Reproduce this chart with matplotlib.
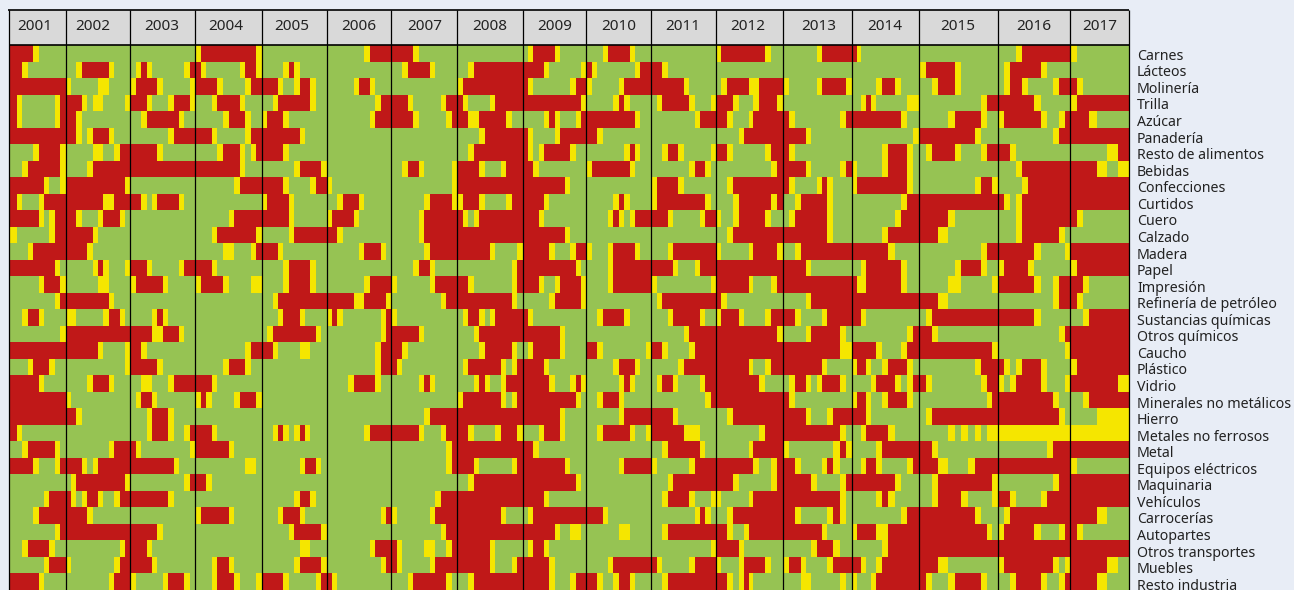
import numpy as np
import matplotlib
matplotlib.use("Agg")
import matplotlib.pyplot as plt
from matplotlib.colors import ListedColormap

sectors = ["Carnes","Lácteos","Molinería","Trilla","Azúcar","Panadería","Resto de alimentos","Bebidas",
           "Confecciones","Curtidos","Cuero","Calzado","Madera","Papel","Impresión","Refinería de petróleo",
           "Sustancias químicas","Otros químicos","Caucho","Plástico","Vidrio","Minerales no metálicos",
           "Hierro","Metales no ferrosos","Metal","Equipos eléctricos","Maquinaria","Vehículos","Carrocerías",
           "Autopartes","Otros transportes","Muebles","Resto industria"]
years = list(range(2001, 2018))

# Each year: one string per sector, one letter per period (G green, Y yellow, R red)
s2001 = """RRRRRYGGGGG RRRYGGGGGGG RRRRRRRRRRR RRYGGGGGGYR RRYGGGGGGYR RRRRRRRRRRR GGGGGYRRRRY GGGYRRRRRRY RRRRRRRYGGY RRYGGGYRRRR RRRRRRYGYRR
YYGGGGGGYRR GGGGYRRRRRR RRRRRRRRRYG GGGGGGYRRRY GGGGGGGGGYR GGGYRRYGGGG GGGGGGGGGGY RRRRRRRRRRR GGGGYRRRYGG RRRRRRYGGGG RRRRRRRRRRR
RRRRRRRRRRR RRYGGGGGGGG GGGYRRRRRYG RRRRRYGGGYR GGGGGGGGGGG GGGGGGGYRRR GGGGGYRRRRR GGGGGGGGGYR GGGYRRRRYGG GGGGGGGYRRR RRRRRRYGGGG""".split()
s2002 = """GGGGGGGGGGGG GGYRRRRRYGGG YGGGGGYYGGGG RRRYGYYGGGGY RRYGGGGGGGGG RRYGYRRRYGGG GGGGGYYGGYRR GGGGYRRRRRRR RRRRRRRRRRRY RRRRRRRYYRRR RRYGGGYRRRYG
RRRRRYGGGGGG RRRRYGGGGGGG GGGGGYRYGGGY GGGGGGYYGGGG RRRRRRRRYGGG YYGGGGGYRRYG RRRRRRRRRRRR RRRRRRYGGGGY GGGGGGGGGGGY GGGGYRRRYGGG YGGGGGGGGGGG
RRYGGGGGGGGG GGGGGGGGGGGG GGGGGGGGYRRR RRRYGYRRRRRR GYRRRRRRRRRY RYGYRRYGGYRR RRRRYGGGGGGG RRRRRRRRRRRR GGGGGGGGGGYR YGGGGGGGGYRR GGGGGGGGYRRR""".split()
s2003 = """GGGGGGGGGGGG GYRYGGGGGGYR YRRRRYGGGGGY RRRYGGGYRRRY GGYRRRRRRYGG GGGGGGGYRRRR RRRRRYGGGGGG RRRRRRRRRRRR GGGGGGGGGGGG RRYGYRRRRYGG GGGGGGGGGGGG
GGGGGGGGGGGG GGGGGGGGGGGG RRRYGGGGGYRR YRRRRRYGGGGG GGGGGGGGGGGG GGGGYRYGGGGG RRRRYYRRRYGG RRYGGGGGGGGG RRRRRYGGGGGG GGYYGGGYRRRR GYRRYGGGGGGG
GGGYRRRYGGGG GGGYRRRYGGYR RYGGGGGGGGGY RRRRRRRRYGGG GGGGGGGGGGYR RRRRRRRYGGGG GGGGGGGGGGGG RRRRRYGGGGGG RRRYGGGGGGGG RRRRYGGGGGGG YGGGGGYRRRYG""".split()
s2004 = """YRRRRRRRRRRY RYGGGGGGYRRY RRRRYGGGGYRR GGGYRRRRYGGG GGGGGYRRRYGG RRRYGGGGGYRR GGGGYRRRYGYR RRRRRRRRYGGG GGGGGGGYRRRR GGGGGGGGGGGG GGGGGGYRRRRR
GGGYRRRRRRRY GGGGGYYGGGYR RRRYGGGGGGGG YRRRRYGGGGYY GGGGGGGGGGGG GGGGGGGGGGGG GGGGGGGGGGGG GGGGGGGGGYRR GGGGGYRRRYGG RRRYGGGGGGGG YRYGGGGYRRRY
GGGGGGGGGGGG RRRYGGGGGGGG RRRRRRYGGGGG GGGGGGGGGYYG RRYGGGGGGGGG GGGGGGGGGGGG YRRRRRYGGGGG GGGGGGGGGGGG GGGGGGGGGGGG GGGYRRYGGGGG GGGYRRRYGGGY""".split()
s2005 = """GGGGGGGGGGGG GGGGYRYGGGGG RRRYGGYRRYGG GGYRRRRRRYGG YRRRYGGGGGGG RRRRRRRYGGGG RRRRYGGGGGGG GGGGGGYRRRRY RRRRYGGGGYRR YRRRRYGGGGGG RRRRRYGGGGGG
GGGGGYRRRRRR RRRYGGGGGGGG GGGGYRRRRYGG GGGGYRRRRYGG GGYRRRRRRRRR GGGYRRRYGGGG GYRRRRRRRRYG RRYGGGGYYGGG GGGGGGGGGGGG GGGGGGGGGGGG GGGGGGGGGGGG
GGGGGGGGGGGG GGYRYGYRYGGG GGGGGGGGGGGG GGGGGGGYRRYG GGGGGGGGGGGG GGGGGGYRRYGG GGGYRRRYGGGG GGGGGYRRRRRY GGGGGGGYYGGG GGGGGGYRRRRY RRRRYGGGGGYR""".split()
s2006 = """GGGGGGGYRRRR GGGGGGGGGGGG GGGGGYRRYGGG GGGGGGGGGYRR GGGGGGGGYRRR GGGGGGGGGGGG GGGGGGGGGGGG GGGGGGGGGGGG YGGGGGGGGGGG GGYRRRYGGGGG YRRRRYGGGGGG
RRYGGGGGGGGG GGGGGGYRRRYG GGGGGGGGGGGG GGGGGGGYRRRR RRRRRYYRRRRY YRYGGGGGGGYR GGGGGGGGGGYR GGGGGGGGGYRR GGGGGGGGGYRR GGGGYRRRRYGG GGGGGGGGGGGG
GGGGGGGGGGGG GGGGGGGYRRRR GGGGGGGGGGGG GGGGGGGGGGGG GGGGGGGGGGGG GGGGGGGGGGGG GGGGGGGGGGYR GGGGGGGGGGGG GGGGGGGGYRRR GGGGGGGGGGYR RYGGGGGGGGGG""".split()
s2007 = """RRRRYGGGGGGG GGYRRRRYGGGG GGGGGGGGGGGG RRRYGGGGGYRR RRRRYGGGGGYR GGGGGGGGGGGG GGGGGGGGGGGG GGYRRYGGGGGY GGGGGGGGGGGY GGGGGGYRRRRY GGGGGYRRRRRR
GGGGGYRRRRRR GGGGGGYRRRRR GGGGYRRYGGGG YGGGGGGYRRRR GGGGGGGGGYRR YGGGGGGGGGGG RRRRRYGGGGGG RRYGGGGGGGGG RYGGGGGGGGGG GGGGGYRYGGGG GGGGGGGGGGGG
GGGGGGYRRRRR RRRRRYGGGYRR GGGGGGGGGGYR GGGGGGGGGGYR GGGGGGGGGGGG GGGGGGGGYRRR YGGGGGGYRRRR GGGGGGGGGYRR RYGGGGYYGGYR RYGGGGGYRRRR GGGYRRRRRRYG""".split()
s2008 = """GGGGGGGGGGGG GGYRRRRRRRRR YRRRRRRRRRRR RYGGGGYRRRRR RRYYRRRRRYGG GGGGYRRRRRRR GGYRRRRRRRRR RRRRYGGGYRRR RRRRRRRRRRRR YRRRYGGGGYRR RYGYRRRRRRRR
RRRRRRRRRRRR RRRRRRYGGGGY GGGGGGGGGGYR RRYGGGGGGGYR RRRRRRRRRRYG GYRRYGYRRRRR GGGYRRRRRRRR GGGGYRRRRRYG GYRRRRRRYGYR GGGYRYGGYRRR YRRRRRRRYGYR
RRRRRRRRRRRR RRYGGGGYRRRY RRRRRRRRRRRR RRRYGGGGGGYR GGYRRRRRRRRR RRRRRRRRRRRR RRRRRRRRYGGG RRRRRRRRRRRR RRRRRRYGGGGG RRRRRRYGGGYR GGYRRRRRRRRR""".split()
s2009 = """GYRRRRYGGGGG RRRRYGGGGGGY RYGGGGGGGYRR RRRRRRRRRRRY GGGGYRYGGGYR RYGGGGYRRRRR RYGYRRRRRYGG RRYGGGGGGGGG RRRRRRRRYGGG RRRRYGGGGGGG RRRYGGGGGGGG
RRRRRRRRYGGG RRRRRYGGGYRR RRRRRRRRRRYG RRRYGGYRRRRY GGGGGYRRRRRY RYGGGGGGGGGG RRRRRRRYGGGG GYRRRRRYGGGG RRRRYGGGGGGG RRRRRYGGGYRY RRRRRRRRRRYG
RRRRRRRYGGGG GGGYRRRYGGGG RRYGGGGGGGGG RRRRRRRRYGGG RRRRRRRRRRYG RRRRYGGGGGGG GYRRRRRRRRRR RRRRRRYGGYYG GYRRYGGGGGGG RRRRRYGGGGGG RRRRRYGGGYRR""".split()
s2010 = """GGGYRRRRYGGG RYGGGGGGGYRR YGGGGGYRRRRR GGGGGYRYGGGG RRRRRRRRRYGG RRYGGGGGGGGG GGGGGGGYRYGG YRRRRRRRYGGG GGGGGGGGGGGG GGGGGYRYGGGG GGGGYRYGYRRR
GGGGGGGGGGGG YGGGYRRRRYGG GGGGYRRRRRRR GGGGYRRRRRRR GGGGGGGGGGGG GGYRRRRYGGGG GGGGGGGGGGGG RRYGGGGGGGGY GGGGGYRRRYGG GGGGGGYRYGGG GGYRRRYGGGGG
GGGGGGYRRRRR GGYRRRRRYGGY GGGGGGGGGGGG GGGGGGYRRRRR GGGGGGGGGGGG GGGGGGGGGGGG RRRYGGGGGGGG GGGGGGYYGGGG GGGGGGGGGGGG GGGGYRRRRRRR RRYGGYRRYGGG""".split()
s2011 = """GGGGGGGGGGGG RRYGGGGGGGGG RRRRRRYGGGGG GYRRRRRYGGGY GGGGGGGGYRRR GGGGGGGGGGGG GGYRRYGGGGGY GGGGGGGYRRYG YRRRRYGGGGGG YRRRRRRRRRYG RRRYGGGGGYRR
GGGGGGGGGGGG GGGYRRRRRRRR RRRRYGGGYRRR YGGGGGGGGGGY GYRRRRRRRRRR GGGYRRRRRYGG GGGGGGYRRRRR RRYGGGGYRRRR GGGGGYRRRRRR GYRRYGGGGYRR GGGGGGGGGGYR
RRRRYGGGGGGG RRRRRRYYYGGG GGYRRRRRRYGG YGGGGGGYRRRR GGGYRRRRRRRR GGYRRRRYGGGY GGGGGGGGYRYG GGYRRRRRRRRR GGGGGGGGGGGY RYGGGGGYRRRR GGYRRRRRRRRR""".split()
s2012 = """YRRRRRRRRYGG GGGGGGGGGGGG GYRRRRYYRRRR RRRYGGGYRRRY RRYGGGYRRRRR GGGGYRRRRRRR RRYGGGGGGYRR GGGGGGGGGGYR GGYRRRRRRRRR GGGYRRRRRRYR YGGYRRRRRYGG
GGYRRRRRRRRR YGGGGGYRRRRY RRRRRRRRRRRR RRRRRRYGGGYR RYGGGGGGGGGG YRRRYGGGGYRR RRRRRRRRRRRY RRRRRRRRRRRR RRRRRRYGGYRR RRRRRRRRYGGG RRRRRRRRRRRR
GGYRRRRRRRRR GGGGGGGGYRRR GGGGGGYRRRRR RRRRRRRYGGYR RRRYGGGGGGYR YGGGGGYRRRRR GGYRRRRRRRRR RRYGGYRRRRRR RRRRYGGGGGGG YGGGYRRRRYGG RRYGYRYGGGGG""".split()
s2013 = """GGGGGGYRRRRR GGGGGGGGGGGG YGGGGGYRRRRY GGGGGGGGGGGG RYGGGGGGGGYR RRRRYGGGGGGG RYGGGGGGGGGG RRRRYGGGGGYR RYGGGGYRYGGG GGYRRRRRYGGG GYRRRRRRYGGG
RRRRRRRRYGGG GGYRRRRRRRRR RRRRYGGGGGGG RRRRRRRRRRRR GGGGYRRRRRRR RRYGGGGYRRRR GGGGYRRRRRYG RRRRRRRRRRYY RRRRRRRYGGGG GYRRYGYRRRYG RYGGGGGGGGGG
RRRRYGGGYRRR RRRRRRRRRRYG YGGGGGGGGYRY RRYGGGGYRYGG RRRRRYGGGGYR RRRRRRRRRRYG RRYGGGGGYRYG RRRRRRRYGGGG GGGGGYRRRYGG YRRYGGGGYRRR GGGYYGGGGGYG""".split()
s2014 = """RYGGGGGGGGGG GGGGGGGGGGGG GGGGGYRRYGGG GGYRYGGGGGYY RRRRRRRRRYGG GGGGGGGGGGGY GGGGGGYRRRYG YGGGGGYRRRYG YRRRRRRRRRYG GGGGGGGGGYRR GGGGGGGGYRRR
GGGGGGYRRRRR RRRRRRRYGGGG GGYRRRRRRYGG RYYRRRRRRYGG RRRRRRRRRRRR RRYGGGGGGGGG GGGGGGGGGGYR RRRRRYGGGYRR YRRYGGYRRRYG GGGGYRRRYGYR YRRYGGYRRRYG
RRRYGGGGGGGG GGYRRRRYGGGG GGGGGYRRRRRR GGYRRYGGGGYR RRRRRRRRYGGG GGGGGYRYGGGG GGGGGGGGGYRR YRRRRYYRRRRR GGGGGGYRRRRR RRYGGYRRRRRR YGGGYRRRRRRR""".split()
s2015 = """GGGGGGGGGGGGG YRRRRRYGGGGGG GGYRRRYGGGGGG GGGGGGGGGGYRR GGGGGYRRRRYGG RRRRRRRRRYGGG GYRRRRYGGGYRR GGGGGGGGGGGGG GGGGGGGGGYRRY RRRRRRRRRRRRR RRRRRYGGGGGGG
RRRYYGGGGGGGG GGGGGGGGGGYRR GGGGGGYRRRYGG GGGGGYYGGGGGY RRRYYGGGGGGGG GYRRRRRRRRRRR RRYGGGGGGGGGG RRRRRRRRRRRRY GGGGGGGGGYRRR RYGGGGGGGGYRR GGGGGGGGGGGYR
GYRRRRRRRRRRR GGGGGYGYGYGYY RRYGGGGGGGGGG RRRYYGGGYRRRR GGYRRRRRRRRRY GGYRRRRYGGGGY RRRRRRRRRYGGG RRRRRRRRRRRYG RRRRRRRRRRRRR RRRYYGGGGGGGG RYGGGYRRRRYGG""".split()
s2016 = """GGGYRRRRRRRR GYRRRRRYGGGG GYRRYGGGGYRR RRRRRRYGGGGG YRRRRRRYGGYR GGGGGGGGGYRR RRYGGGGGGGGG GGGYRRRRRRRR GGGGYRRRRRRR RYGYRRRRRRRR GGGYRRRRRRRR
GGGYRRRRRRYG RRRRRRYGGGGY YRRRRYGGGGGG RRRRRRYGGYRR GGGGGGGGGYRR RRRRRRYGGGGG GGGGGGGGGGYR GGGGGGGGGGGY RYGYRRRYGGGG YGYRRRRYGGGY RRRRRRRRRYGG
RRRRRRRRRRYG YYYYYYYYYYYY GGGGGGGGYRRR RRRRRRRRRRRR GGGGGGGGGYRR RRYGGGGYRRRR GYRRRRRRRRRR YRRRRRYGGGYR RRRRRRRRRRRR YRRRRRRRRYGY GGYRRRRYGGYR""".split()
s2017 = """YGGGGGGGGG GGGGGGGGGG RYGGGGGGGG YRRRRRRRRR RRRYGGGGGG RRRRRRRRRR GGGGGGYYRR RRRRYYGGYY RRRRRRRRRR RRRRRRRRRR RYGGGGGGGG
GGGGGGGGGG RRRRRRRRRR YRRRRRRRRR RRYGGGGGGG RYGGGGGGGG GGYRRRRRRR RRRRRRRRRR RRRRRRRRRR YRRRRRRRRR RRRRRRRRYY GGYRRRRRRR
GGGGYYYYYY YYYYYYYYYY RRRRRRRRRR YGGGGGGGGG RRRRRRRRRR RRRRRRRRRR RRRRYYGGGG RYGGGGGGGG RRRRRRRRRR RRRRRRYYGG RRRRYYGGGG""".split()
all_years = [s2001,s2002,s2003,s2004,s2005,s2006,s2007,s2008,s2009,s2010,s2011,s2012,s2013,s2014,s2015,s2016,s2017]

# layout (figure pixels)
W, H = 1294, 590
year_lines = [8.7,65.7,130.3,195.3,261.7,326.7,391.3,457.3,522.7,586.3,651.3,716.3,783.3,851.5,919.3,998.3,1070.3,1128.5]
year_label_x = [35,93,161.7,226,292,359,425,489.5,555,619,683,748,819,885,958,1034,1100]
relative_widths = {
    2012:[14,18,18,18,15,15,13,17,18,18,18,19],
    2013:[17,18,18,15,15,18,15,15,18,21,18,17],
    2014:[17,12,15,15,15,18,18,21,18,18,18,19],
    2015:[20,18,18,15,15,21,18,21,21,18,18,15,19],
    2016:[17,18,18,18,18,18,21,18,18,18,18,16],
    2017:[20,18,18,24,15,15,16,17,15,16],
}
top, row_h = 45.0, 16.5
y_edges = top + row_h*np.arange(len(sectors)+1)
label_y0, label_step = 56.3, 16.56
code = {"G":0,"Y":1,"R":2}
cmap = ListedColormap(["#96C353","#F5E600","#C01818"])

fig = plt.figure(figsize=(W/100,H/100), dpi=100, facecolor="#E8EDF6")
ax = fig.add_axes([0,0,1,1])
ax.set_xlim(0,W); ax.set_ylim(H,0); ax.axis("off")

for i,(yr,col) in enumerate(zip(years,all_years)):
    if len(col)!=len(sectors) or len({len(s) for s in col})!=1:
        raise ValueError(f"{yr}: {len(col)} {[len(s) for s in col]}")
    x0,x1 = year_lines[i],year_lines[i+1]
    n = len(col[0])
    if yr==2001:
        step=(x1-x0)/10.5
        xs = x1-step*np.arange(n,-1,-1)
    elif yr in relative_widths:
        w=np.array(relative_widths[yr],float)
        xs = x0+(x1-x0)*np.r_[0,np.cumsum(w)]/w.sum()
    else:
        xs = np.linspace(x0,x1,n+1)
    vals = np.array([[code[c] for c in s] for s in col])
    mesh = ax.pcolormesh(xs,y_edges,vals,cmap=cmap,vmin=0,vmax=2,antialiased=False,linewidth=0)
    if yr==2001:
        mesh.set_clip_path(plt.Rectangle((x0,0),x1-x0,H,transform=ax.transData))
    ax.text(year_label_x[i],26.5,str(yr),ha="center",va="center",fontsize=11,color="#222222",family="Noto Sans",zorder=5)

ax.fill_between([year_lines[0],year_lines[-1]],10,44.5,color="#D9D9D9",lw=0,zorder=1)
ax.vlines(year_lines,10,H,color="black",lw=0.9,zorder=4)
ax.hlines(10,year_lines[0]-0.5,year_lines[-1]+0.5,color="black",lw=1.2,zorder=4)
ax.hlines(44.7,year_lines[0],year_lines[-1],color="black",lw=1.2,zorder=4)

for j,s in enumerate(sectors):
    ax.text(1137,label_y0+label_step*j,s,ha="left",va="center",fontsize=10.2,color="#222222",family="Noto Sans")
fig.savefig("out.png",dpi=100,facecolor=fig.get_facecolor())
